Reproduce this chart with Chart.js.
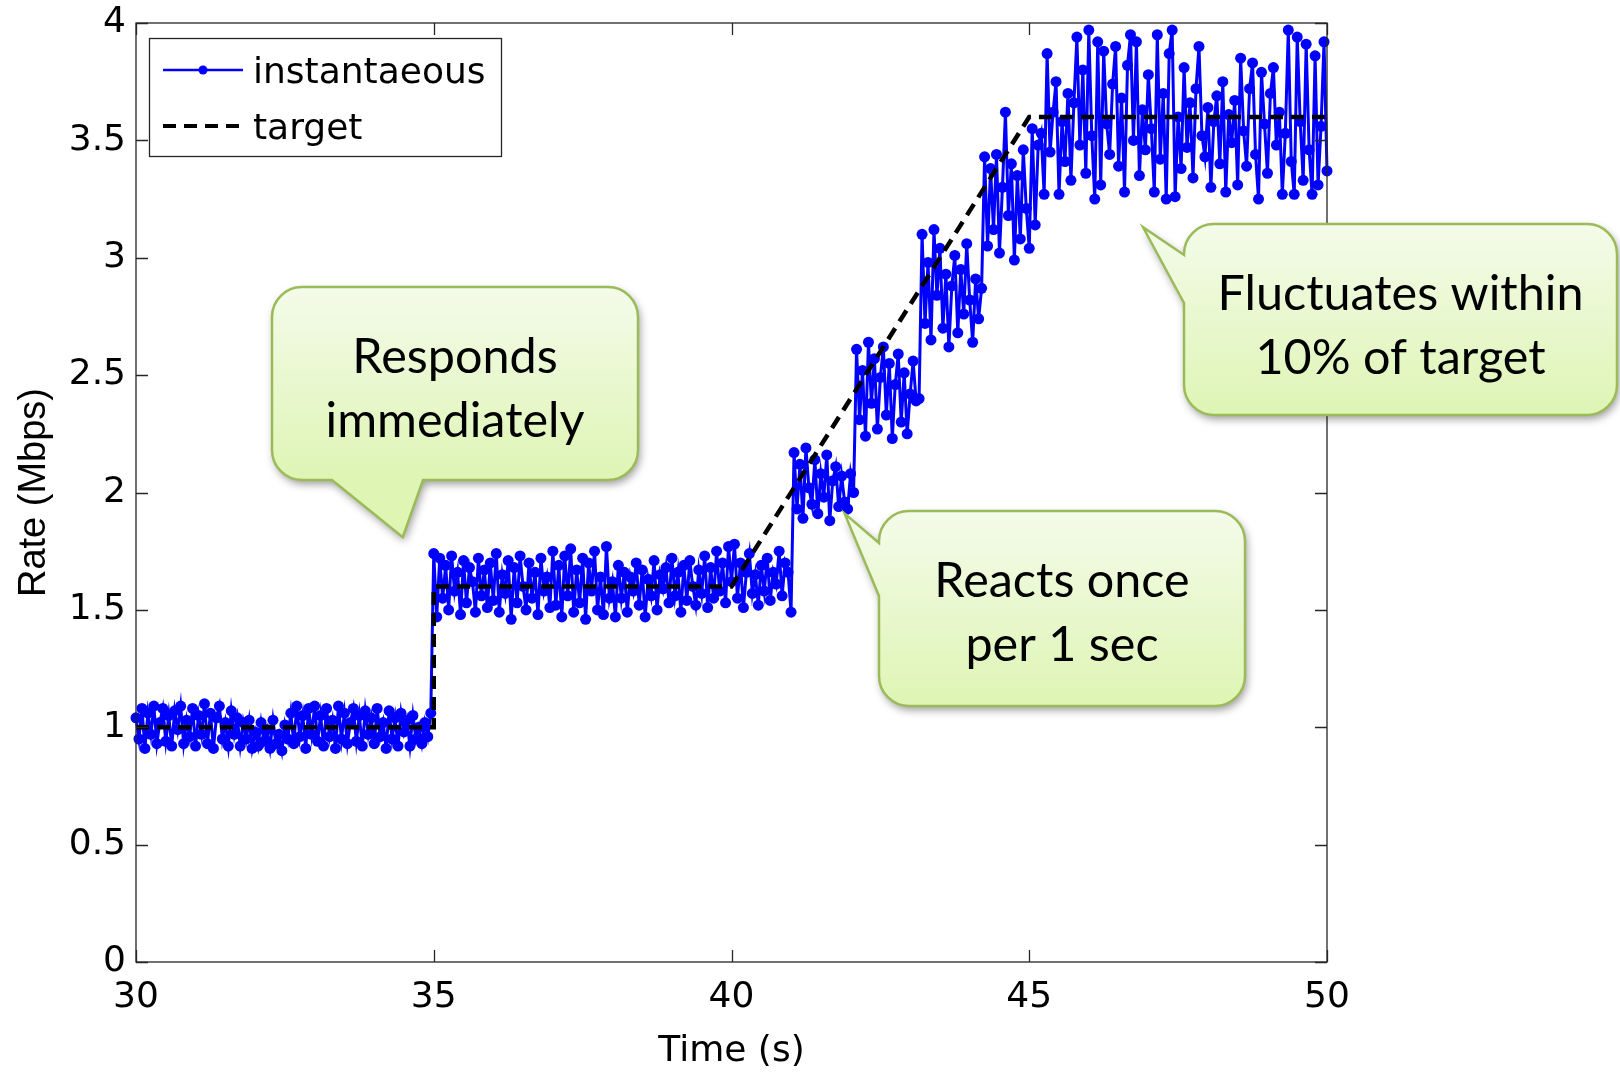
<!DOCTYPE html>
<html>
<head>
<meta charset="utf-8">
<title>Rate vs time</title>
<script src="https://cdn.jsdelivr.net/npm/chart.js@4.4.1/dist/chart.umd.min.js"></script>
<style>
  html, body { margin: 0; padding: 0; background: #fff; }
  canvas { display: block; }
</style>
</head>
<body>
<canvas id="rateChart" width="1620" height="1073"></canvas>
<script>
// sampling interval of the measured rate (s)
const SAMPLE_STEP = 0.05;

// measured rate (Mbps), one block per time window
const rate30 = [
  1.04, 0.95, 1.08, 0.91, 1.06, 0.97, 1.09, 0.93, 1.02, 1.08, 0.94, 1.05, 0.92, 1.07, 0.99, 1.09, 0.93, 1.03, 0.96, 1.08,
  0.92, 1.05, 0.97, 1.10, 0.93, 1.06, 0.91, 1.04, 1.09, 0.95, 1.02, 0.92, 1.07, 0.97, 1.04, 0.92, 1.02, 0.95, 1.03, 0.91,
  0.98, 0.92, 1.02, 0.94, 0.99, 0.91, 1.03, 0.93, 0.97, 0.90, 1.01, 0.95, 1.06, 0.93, 1.09, 0.96, 1.05, 0.91, 1.08, 0.97,
  1.09, 0.94, 1.05, 0.92, 1.08, 0.96, 1.03, 0.91, 1.09, 0.95, 1.06, 0.93, 1.02, 1.08, 0.94, 1.05, 0.92, 1.07, 0.97, 1.04,
  0.93, 1.08, 0.96, 1.02, 0.91, 1.07, 0.95, 1.04, 0.92, 1.06, 0.98, 1.03, 0.92, 1.05, 0.95, 1.00, 0.93, 1.02, 0.96, 1.06
];
const rate35 = [
  1.74, 1.47, 1.72, 1.55, 1.69, 1.50, 1.73, 1.58, 1.66, 1.48, 1.71, 1.53, 1.68, 1.62, 1.49, 1.72, 1.56, 1.67, 1.51, 1.70,
  1.54, 1.74, 1.49, 1.65, 1.57, 1.71, 1.46, 1.68, 1.53, 1.73, 1.60, 1.50, 1.70, 1.55, 1.66, 1.48, 1.72, 1.58, 1.64, 1.51,
  1.75, 1.52, 1.69, 1.47, 1.73, 1.56, 1.76, 1.49, 1.67, 1.53, 1.72, 1.46, 1.70, 1.58, 1.75, 1.50, 1.64, 1.48, 1.77, 1.55,
  1.62, 1.47, 1.69, 1.55, 1.66, 1.49, 1.64, 1.58, 1.70, 1.52, 1.67, 1.47, 1.63, 1.56, 1.71, 1.50, 1.65, 1.59, 1.68, 1.53,
  1.72, 1.56, 1.66, 1.49, 1.69, 1.54, 1.71, 1.60, 1.52, 1.67, 1.57, 1.73, 1.51, 1.68, 1.55, 1.75, 1.58, 1.70, 1.53, 1.77
];
const rate40 = [
  1.62, 1.78, 1.55, 1.70, 1.51, 1.66, 1.74, 1.57, 1.65, 1.52, 1.69, 1.58, 1.72, 1.54, 1.66, 1.61, 1.75, 1.56, 1.70, 1.66,
  1.49, 2.17, 1.93, 2.12, 1.89, 2.19, 2.02, 1.95, 2.14, 1.91, 2.08, 1.98, 2.16, 1.88, 2.05, 2.11, 1.94, 2.07, 1.96, 1.93,
  2.08, 2.00, 2.61, 2.31, 2.52, 2.24, 2.64, 2.38, 2.57, 2.27, 2.49, 2.62, 2.33, 2.55, 2.23, 2.46, 2.59, 2.30, 2.51, 2.25,
  2.42, 2.56, 2.39, 2.40, 3.10, 2.72, 2.98, 2.65, 3.12, 2.84, 3.04, 2.70, 2.93, 2.62, 2.88, 3.01, 2.68, 2.95, 2.76, 3.06,
  2.82, 2.64, 2.91, 2.74, 2.87, 3.43, 3.05, 3.38, 3.12, 3.44, 3.02, 3.30, 3.62, 3.18, 3.40, 2.99, 3.35, 3.08, 3.46, 3.21,
  3.04, 3.55, 3.14, 3.48, 3.53, 3.27
];
const rate45 = [
  3.87, 3.45, 3.62, 3.75, 3.27, 3.58, 3.41, 3.70, 3.33, 3.66,
  3.94, 3.48, 3.80, 3.36, 3.97, 3.52, 3.25, 3.92, 3.31, 3.88,
  3.57, 3.44, 3.74, 3.90, 3.39, 3.68, 3.28, 3.82, 3.95, 3.50,
  3.92, 3.35, 3.63, 3.46, 3.78, 3.55, 3.28, 3.95, 3.42, 3.70,
  3.25, 3.87, 3.97, 3.26, 3.60, 3.38, 3.81, 3.47, 3.66, 3.34,
  3.72, 3.90, 3.52, 3.43, 3.64, 3.30, 3.58, 3.69, 3.40, 3.75,
  3.28, 3.61, 3.49, 3.67, 3.31, 3.85, 3.54, 3.39, 3.72, 3.83,
  3.44, 3.25, 3.79, 3.57, 3.36, 3.70, 3.81, 3.48, 3.62, 3.27,
  3.53, 3.97, 3.41, 3.27, 3.94, 3.58, 3.33, 3.91, 3.46, 3.27,
  3.86, 3.31, 3.56, 3.92, 3.37
];
const rateBlocks = [
  { start: 30, values: rate30 },
  { start: 35, values: rate35 },
  { start: 40, values: rate40 },
  { start: 45.3, values: rate45 }
];

// target rate
const targetTime = [30, 35, 35, 40, 45, 50];
const targetRate = [1, 1, 1.6, 1.6, 3.6, 3.6];

const xTicks = [30, 35, 40, 45, 50];
const yTicks = [0, 0.5, 1, 1.5, 2, 2.5, 3, 3.5, 4];
const seriesNames = ['instantaeous', 'target'];

// speech bubbles: box in px, tip in data units (time, rate)
const callouts = [
  { lines: ['Responds', 'immediately'], box: [272, 287, 638, 480], side: 'bottom', base: [332, 423], tip: [34.48, 1.81] },
  { lines: ['Reacts once', 'per 1 sec'], box: [879, 511, 1245, 706], side: 'left', base: [543, 596], tip: [41.9, 1.91] },
  { lines: ['Fluctuates within', '10% of target'], box: [1184, 224, 1617, 415], side: 'left', base: [255, 303], tip: [46.91, 3.13] }
];

const instPoints = [];
rateBlocks.forEach(b => b.values.forEach((v, i) => {
  instPoints.push({ x: +(b.start + i * SAMPLE_STEP).toFixed(2), y: v });
}));
const targetPoints = targetTime.map((t, i) => ({ x: t, y: targetRate[i] }));

const tickFont = { family: 'DejaVu Sans', size: 36 };

const frame = {
  id: 'frame',
  afterDatasetsDraw(chart) {
    const { ctx, chartArea: a, scales: { x, y } } = chart;
    ctx.save();
    ctx.strokeStyle = '#262626';
    ctx.lineWidth = 1.3;
    ctx.strokeRect(a.left, a.top, a.right - a.left, a.bottom - a.top);
    ctx.beginPath();
    xTicks.forEach(v => {
      const px = Math.round(x.getPixelForValue(v)) + 0.5;
      ctx.moveTo(px, a.bottom); ctx.lineTo(px, a.bottom - 12);
      ctx.moveTo(px, a.top); ctx.lineTo(px, a.top + 12);
    });
    yTicks.forEach(v => {
      const py = Math.round(y.getPixelForValue(v)) + 0.5;
      ctx.moveTo(a.left, py); ctx.lineTo(a.left + 12, py);
      ctx.moveTo(a.right, py); ctx.lineTo(a.right - 12, py);
    });
    ctx.stroke();
    ctx.restore();
  }
};

const overlays = {
  id: 'overlays',
  afterDraw(chart) {
    const { ctx, scales: { x, y } } = chart;
    const ds = chart.data.datasets;

    // legend
    ctx.save();
    ctx.fillStyle = '#fff';
    ctx.fillRect(149, 38, 352, 118);
    ctx.strokeStyle = '#262626';
    ctx.lineWidth = 1.3;
    ctx.strokeRect(149.5, 38.5, 352, 118);
    const rows = [70, 126];
    ds.forEach((d, i) => {
      const ry = rows[i];
      ctx.beginPath();
      ctx.strokeStyle = d.borderColor;
      ctx.lineWidth = i === 0 ? 2.5 : 4;
      ctx.setLineDash(d.borderDash || []);
      ctx.moveTo(163, ry); ctx.lineTo(243, ry);
      ctx.stroke();
      ctx.setLineDash([]);
      if (d.pointRadius > 0) {
        ctx.fillStyle = d.pointBackgroundColor;
        ctx.beginPath(); ctx.arc(203, ry, 4.5, 0, Math.PI * 2); ctx.fill();
      }
      ctx.fillStyle = '#000';
      ctx.font = '36px "DejaVu Sans"';
      ctx.textBaseline = 'alphabetic';
      ctx.textAlign = 'left';
      ctx.fillText(d.label, 253, ry + 13);
    });
    ctx.restore();

    // callouts
    ctx.save();
    ctx.font = '52px Lato';
    const fontSize = 52 * 366 / ctx.measureText('Fluctuates within').width;
    callouts.forEach(c => {
      const [x0, y0, x1, y1] = c.box, r = 30;
      const tx = x.getPixelForValue(c.tip[0]), ty = y.getPixelForValue(c.tip[1]);
      ctx.beginPath();
      ctx.moveTo(x0 + r, y0);
      ctx.lineTo(x1 - r, y0);
      ctx.arcTo(x1, y0, x1, y0 + r, r);
      ctx.lineTo(x1, y1 - r);
      ctx.arcTo(x1, y1, x1 - r, y1, r);
      if (c.side === 'bottom') {
        ctx.lineTo(c.base[1], y1); ctx.lineTo(tx, ty); ctx.lineTo(c.base[0], y1);
      }
      ctx.lineTo(x0 + r, y1);
      ctx.arcTo(x0, y1, x0, y1 - r, r);
      if (c.side === 'left') {
        ctx.lineTo(x0, c.base[1]); ctx.lineTo(tx, ty); ctx.lineTo(x0, c.base[0]);
      }
      ctx.lineTo(x0, y0 + r);
      ctx.arcTo(x0, y0, x0 + r, y0, r);
      ctx.closePath();

      const g = ctx.createLinearGradient(0, y0, 0, y1);
      g.addColorStop(0, 'rgb(244,251,234)');
      g.addColorStop(1, 'rgb(222,245,180)');
      ctx.save();
      ctx.shadowColor = 'rgba(0,0,0,0.4)';
      ctx.shadowBlur = 8;
      ctx.shadowOffsetX = 2;
      ctx.shadowOffsetY = 4;
      ctx.fillStyle = g;
      ctx.fill();
      ctx.restore();
      ctx.strokeStyle = 'rgb(155,187,89)';
      ctx.lineWidth = 2.5;
      ctx.stroke();

      ctx.fillStyle = '#000';
      ctx.font = fontSize + 'px Lato';
      ctx.textAlign = 'center';
      ctx.textBaseline = 'alphabetic';
      const cx = (x0 + x1) / 2;
      c.lines.forEach((ln, i) => ctx.fillText(ln, cx, y0 + 86 + i * 64));
    });
    ctx.restore();
  }
};

new Chart(document.getElementById('rateChart'), {
  type: 'line',
  data: {
    datasets: [
      {
        label: seriesNames[0],
        data: instPoints,
        borderColor: '#0000ff',
        borderWidth: 3,
        pointRadius: 5.5,
        pointBackgroundColor: '#0000ff',
        pointBorderWidth: 0,
        tension: 0,
        clip: false,
        order: 1
      },
      {
        label: seriesNames[1],
        data: targetPoints,
        borderColor: '#000',
        borderWidth: 4.5,
        borderDash: [13, 8],
        pointRadius: 0,
        tension: 0,
        order: 0
      }
    ]
  },
  options: {
    responsive: false,
    animation: false,
    devicePixelRatio: 1,
    layout: { padding: { top: 23, right: 293, left: 0, bottom: 0 } },
    plugins: { legend: { display: false }, tooltip: { enabled: false } },
    scales: {
      x: {
        type: 'linear',
        min: 30,
        max: 50,
        afterBuildTicks: s => { s.ticks = xTicks.map(v => ({ value: v })); },
        afterFit: s => { s.height = 111; s.paddingLeft = 0; s.paddingRight = 0; },
        grid: { display: false, drawTicks: false },
        border: { display: false },
        ticks: { font: tickFont, color: '#000', padding: 14, maxRotation: 0 },
        title: { display: true, text: 'Time (s)', font: tickFont, color: '#000', padding: { top: 0, bottom: 0 } }
      },
      y: {
        min: 0,
        max: 4,
        afterBuildTicks: s => { s.ticks = yTicks.map(v => ({ value: v })); },
        afterFit: s => { s.width = 136; s.paddingTop = 0; s.paddingBottom = 0; },
        grid: { display: false, drawTicks: false },
        border: { display: false },
        ticks: { font: tickFont, color: '#000', padding: 10, callback: v => String(v) },
        title: { display: true, text: 'Rate (Mbps)', font: { family: 'Liberation Sans', size: 38 }, color: '#000', padding: { top: 12, bottom: 0 } }
      }
    }
  },
  plugins: [frame, overlays]
});
</script>
</body>
</html>
